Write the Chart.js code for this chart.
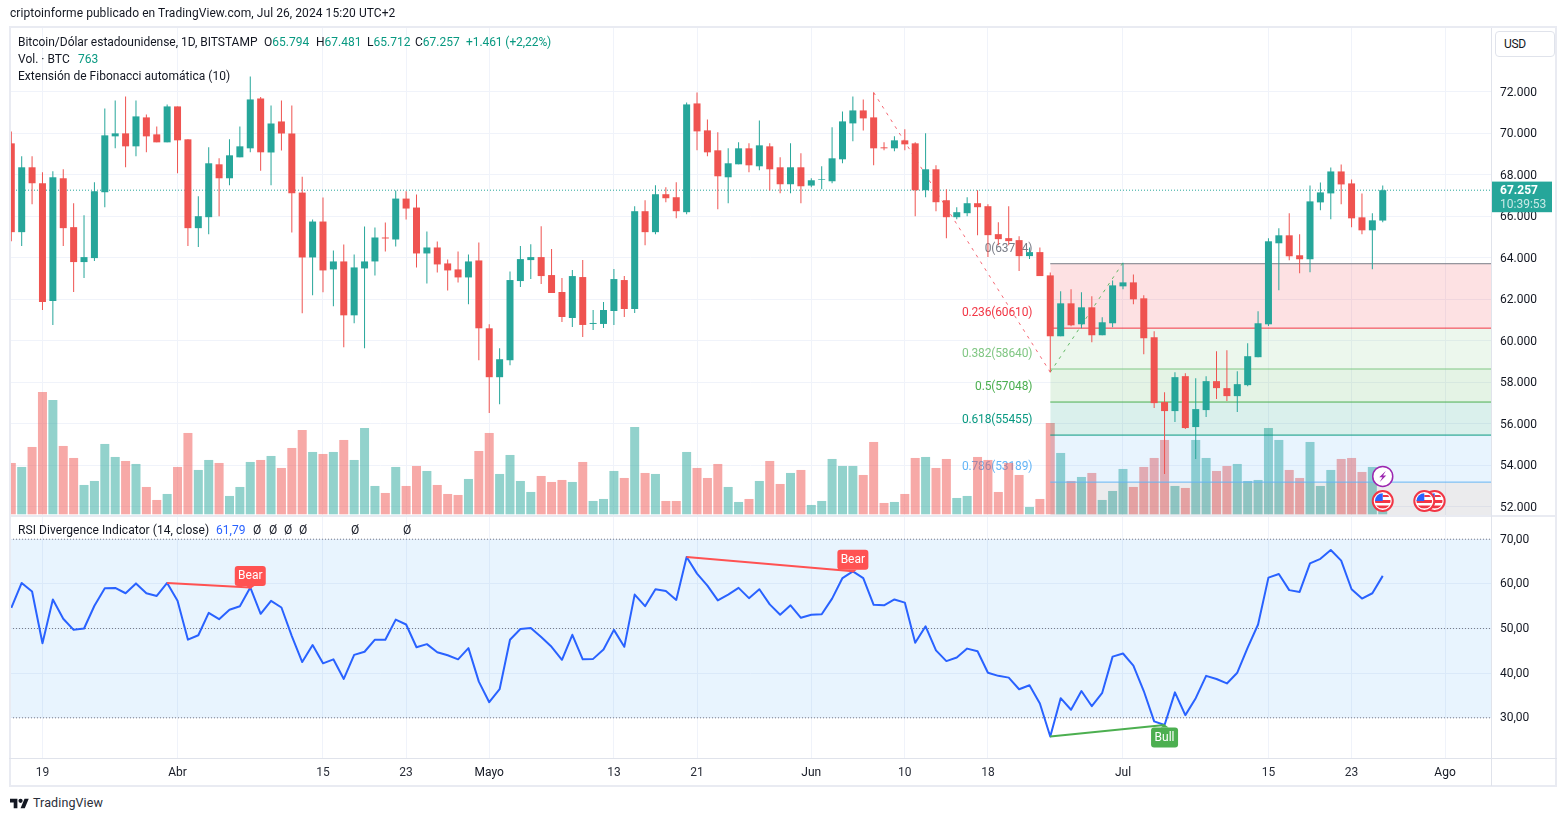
<!DOCTYPE html>
<html><head><meta charset="utf-8">
<script src="https://cdn.jsdelivr.net/npm/chart.js@4"></script>
<style>
html,body{margin:0;padding:0;background:#fff;width:1567px;height:821px;overflow:hidden}
canvas{position:absolute;display:block}
.t{position:absolute;white-space:nowrap;font:12px Roboto,sans-serif;color:#131722;line-height:16px;letter-spacing:.02px;z-index:5}
.g{color:#089981}.b{color:#2962ff}
.f{position:absolute;background:#e9ebf2;z-index:4}
</style></head><body>
<div class="t" style="left:10px;top:5px;letter-spacing:.07px">criptoinforme publicado en TradingView.com, Jul 26, 2024 15:20 UTC+2</div>
<div class="f" style="left:9px;top:26px;width:1548px;height:2px"></div>
<div class="f" style="left:9px;top:28px;width:2px;height:758px"></div>
<div class="f" style="left:1555px;top:28px;width:2px;height:758px"></div>
<div class="f" style="left:9px;top:785px;width:1548px;height:2px"></div>
<div class="f" style="left:9px;top:515px;width:1548px;height:2px"></div>
<div class="f" style="left:9px;top:758px;width:1548px;height:1px;background:#e0e3eb"></div>
<div class="f" style="left:1491px;top:28px;width:1px;height:758px;background:#e0e3eb"></div>
<canvas id="priceCanvas" width="1545" height="523" style="left:10px;top:10px"></canvas>
<canvas id="rsiCanvas" width="1545" height="287" style="left:10px;top:498px"></canvas>
<div class="t" style="left:18px;top:34px;letter-spacing:-.02px">Bitcoin/Dólar estadounidense, 1D, BITSTAMP</div>
<div class="t" style="left:264px;top:34px">O<span class="g">65.794</span></div>
<div class="t" style="left:316px;top:34px">H<span class="g">67.481</span></div>
<div class="t" style="left:367px;top:34px">L<span class="g">65.712</span></div>
<div class="t" style="left:415px;top:34px">C<span class="g">67.257</span></div>
<div class="t g" style="left:466px;top:34px;letter-spacing:-.08px">+1.461 (+2,22%)</div>
<div class="t" style="left:18px;top:51px">Vol. · BTC</div>
<div class="t g" style="left:78px;top:51px">763</div>
<div class="t" style="left:18px;top:68px">Extensión de Fibonacci automática (10)</div>
<div class="t" style="left:18px;top:522px;letter-spacing:.07px">RSI Divergence Indicator (14, close)</div>
<div class="t b" style="left:216px;top:522px">61,79</div>
<div class="t" style="left:253px;top:522px">Ø</div>
<div class="t" style="left:269px;top:522px">Ø</div>
<div class="t" style="left:284px;top:522px">Ø</div>
<div class="t" style="left:299px;top:522px">Ø</div>
<div class="t" style="left:351px;top:522px">Ø</div>
<div class="t" style="left:403px;top:522px">Ø</div>
<div style="position:absolute;left:1495px;top:31px;width:58px;height:24px;border:1px solid #e0e3eb;border-radius:4px;background:#fff;z-index:5"></div>
<div class="t" style="left:1504px;top:36px;z-index:6;letter-spacing:-.3px">USD</div>
<svg style="position:absolute;left:10px;top:797px" width="19" height="13" viewBox="0 2 36 22"><path fill="#131722" d="M14 22H7V11H0V4h14v18zM28 22h-8l7.5-18h8L28 22z"/><circle fill="#131722" cx="20" cy="8" r="4"/></svg>
<div class="t" style="left:33px;top:795px;font-size:12.5px;letter-spacing:.1px;color:#2a2e39">TradingView</div>
<script>
const candleOpen=[69515,65235,68361,67592,61917,67832,65476,63793,63985,67159,69852,69996,69371,70766,69948,69563,71295,69708,65428,65957,68505,67832,68842,69275,71677,69075,70570,69990,67142,64016,65747,63439,63824,61227,63487,63824,64978,64882,66853,66421,64209,64497,63728,63439,63054,63872,60602,58245,59063,62879,63889,64033,63167,62350,61099,63071,60811,60811,61436,62927,61532,66245,65235,67063,66918,66197,71439,70140,69179,67880,68505,69275,68409,69371,68361,67544,68361,67480,67752,67688,68746,70477,71102,70766,69323,69275,69660,69515,67255,68265,66774,65956,66149,66630,66486,65139,64947,64851,64081,64273,63152,60218,61805,60795,61613,60267,60844,62623,62815,62046,60170,57045,56612,58295,55842,56660,58054,57718,57333,57862,59209,60795,64699,65083,64121,63929,66670,67103,68161,67584,65949,65324,65794];
const candleHigh=[70092,68890,68890,68121,68169,68265,66630,66053,67640,71199,71583,71776,71583,70910,70333,71391,71295,69708,66967,69323,68794,69708,70333,72737,71750,71340,71580,71340,67911,65844,66902,64353,64641,64160,65507,65459,65699,67238,67206,67046,65267,64786,63920,64305,64160,64737,60794,59640,63343,64562,64658,65524,64418,63023,63408,63889,61484,61869,63456,63119,66486,66774,67496,67400,67640,71487,71968,70669,70044,69275,69563,69515,70621,69515,68842,69515,69034,67832,68409,70285,71054,71776,71631,71968,69563,69852,70189,69563,70000,68457,67303,66438,66918,67255,66582,65716,66486,65043,64498,64498,63296,62383,62479,62334,62142,61132,62911,63761,63200,62190,60459,57525,58487,58439,58198,58295,59497,59545,58535,59882,61421,64939,65420,66141,65131,67488,67632,68353,68498,67776,67103,66141,67481];
const candleLow=[64802,64562,66582,61484,60763,64562,62350,63023,63841,66438,69275,68361,68890,69083,69563,69563,68073,64562,64514,65139,66005,67496,68842,69083,68200,67500,69170,65218,61323,62189,62333,61660,59688,60842,59640,63151,64305,64545,65844,63535,62766,63295,62429,62814,61756,59063,56514,56947,58822,62590,62975,62735,62302,60907,60667,60186,60522,60618,60763,61147,61340,64610,65139,66678,65908,66101,69179,68890,66341,66630,68505,68120,68217,67239,67111,67111,66630,67400,67303,67592,68554,69611,70140,68457,69179,69130,69179,66005,66918,66245,64947,65860,66005,65091,64033,64610,64610,63360,63937,63119,58487,60218,60699,60603,59930,60267,60651,62479,61757,59353,56756,53582,56083,55746,54303,56323,57189,57093,56563,57814,59209,60707,62438,63881,63256,63304,66286,65853,66574,65468,65131,63448,65712];
const candleClose=[65235,68361,67592,61869,67880,65428,63793,64033,67207,69900,69996,69371,70814,69852,69563,71295,69660,65428,66005,68554,67832,68938,69371,71631,69083,70472,69990,67110,64016,65747,63391,63824,61227,63535,63824,64978,64930,66853,66373,64209,64497,63680,63391,63054,63824,60602,58245,59111,62927,63937,64033,63119,62302,61147,63119,60763,60859,61484,62975,61532,66245,65235,67063,66870,66245,71391,70092,69082,67928,68554,69275,68457,69419,68265,67544,68361,67447,67736,67784,68794,70573,71102,70718,69275,69275,69660,69467,67255,68265,66678,65956,66197,66630,66438,65091,64898,64803,64081,64273,63119,60218,61805,60747,61613,60267,60892,62671,62815,61998,60122,56996,56612,58247,55794,56708,58054,57718,57333,57910,59257,60844,64795,65083,64073,63929,66718,67151,68161,67536,65901,65324,65805,67257];
const volumes=[6160,5680,8080,14680,13720,8200,6760,3520,4000,8440,6880,6400,6040,3280,1720,2440,5680,9760,5320,6520,6160,2200,3280,6280,6520,7000,5560,7960,10120,7480,7240,7480,8920,6520,10360,3400,2560,5680,3400,5800,5200,3520,2440,2320,4240,7600,9760,4840,7120,4000,2680,4600,3880,4120,3880,6280,1600,1840,5200,4360,10480,4960,4840,1600,1600,7480,5560,4360,6040,3280,1480,1840,4000,6400,3640,4960,5320,1120,1600,6640,5800,5800,4720,8680,1360,1480,2440,6760,6880,5560,6640,1960,2200,6880,6520,2680,6160,4720,880,1840,10960,7360,4000,4480,4960,1720,2800,5440,3280,5680,6760,8920,3400,3160,8920,6760,5200,5800,6040,4000,4120,10360,8920,5320,4360,8680,3400,5320,6640,6760,5080,5680,763];
const rsiValues=[54.6,60.2,58.3,46.7,56.5,52.2,49.7,50.0,55.1,59.0,59.1,57.9,60.1,57.9,57.3,60.2,56.2,47.5,48.5,53.5,52.1,54.2,55.0,59.2,53.3,56.2,54.7,48.3,42.5,46.3,42.2,43.1,38.7,44.1,44.8,47.5,47.5,52.0,50.9,45.8,46.5,44.7,44.0,43.1,45.6,38.1,33.5,36.4,47.5,49.9,50.1,48.1,45.9,43.0,48.6,43.1,43.2,45.3,49.7,45.9,57.6,55.0,58.8,58.4,56.4,66.0,62.3,59.6,56.3,57.6,59.1,56.8,58.8,55.4,53.1,55.2,52.4,53.1,53.2,56.7,61.3,62.8,61.3,55.3,55.2,56.5,55.8,46.8,50.5,45.1,42.7,43.5,45.5,44.9,40.1,39.4,39.0,36.4,37.3,33.2,25.8,34.4,31.8,36.0,32.6,35.6,43.7,44.4,41.7,36.0,29.2,28.4,35.7,30.6,34.4,39.4,38.7,37.7,40.1,45.7,50.9,61.4,62.2,58.6,58.2,64.6,65.6,67.6,65.2,58.8,56.7,57.9,61.79];
const xTickIndex=[3,16,30,38,46,58,66,77,86,94,107,121,129,138];
const xTickLabels=['19','Abr','15','23','Mayo','13','21','Jun','10','18','Jul','15','23','Ago'];
const monthTicks=[16,46,77,107,138];
const priceTicks=[52000,54000,56000,58000,60000,62000,64000,66000,68000,70000,72000];
const priceTickLabels=['52.000','54.000','56.000','58.000','60.000','62.000','64.000','66.000','68.000','70.000','72.000'];
const rsiTicks=[30,40,50,60,70];
const rsiTickLabels=['30,00','40,00','50,00','60,00','70,00'];
const rsiLevels=[70,50,30];
const fibRatios=['0','0.236','0.382','0.5','0.618','0.786'];
const fibPrices=[63714,60610,58640,57048,55455,53189];
const fibColors=['#787b86','#f23645','#81c784','#4caf50','#089981','#64b5f6'];
const fibBands=['rgba(242,54,69,.15)','rgba(129,199,132,.15)','rgba(76,175,80,.15)','rgba(8,153,129,.15)','rgba(100,181,246,.15)','rgba(120,123,134,.15)'];
const fibFloor=51604;
const fibStartIndex=100;
const trendDown=[{x:83,y:71968},{x:100,y:58487}];
const trendUp=[{x:100,y:58487},{x:107,y:63761}];
const divergences=[{from:15,to:23,kind:'Bear'},{from:65,to:81,kind:'Bear'},{from:100,to:111,kind:'Bull'}];
const lastPriceLabel=['67.257','10:39:53'];
const flagEventIndex=[137,136,132];
const boltEventIndex=[132];

const UP='#26a69a',DOWN='#ef5350',XMIN=-0.125,XMAX=142.42,GRID='#f0f3fa';
const FONT='Roboto, sans-serif';
const lastPrice=candleClose[candleClose.length-1];
const isUp=i=>candleClose[i]>=candleOpen[i];
Chart.defaults.font.family=FONT;Chart.defaults.font.size=12;Chart.defaults.color='#131722';

function xScale(showLabels){
  return {type:'linear',min:XMIN,max:XMAX,offset:false,
    grid:{color:GRID,offset:false,drawTicks:false},border:{display:false},
    afterBuildTicks(s){s.ticks=xTickIndex.map(v=>({value:v}))},
    afterFit(s){s.height=showLabels?27:0},
    ticks:{display:showLabels,autoSkip:false,maxRotation:0,padding:8,
      callback:(v)=>xTickLabels[xTickIndex.indexOf(v)],
      font:{family:FONT,size:12},color:c=>c.tick&&monthTicks.includes(c.tick.value)?'#131722':'#2a2e39'}};
}
function yAxis(ticks,labels,min,max,labelOffset){
  return {type:'linear',position:'right',min,max,offset:false,grid:{color:GRID,drawTicks:false},border:{display:false},
    afterBuildTicks(s){s.ticks=ticks.map(v=>({value:v}))},
    afterFit(s){s.width=64},
    ticks:{padding:9,labelOffset,autoSkip:false,callback:v=>labels[ticks.indexOf(v)],color:'#131722',font:{family:FONT,size:12}}};
}
const flat=(y,from,to)=>[{x:from,y},{x:to,y}];
const line=(data,color,extra)=>Object.assign({type:'line',data,borderColor:color,borderWidth:1,pointRadius:0,fill:false,tension:0},extra);

/* ---- price pane ---- */
const fibSets=fibPrices.map((p,k)=>line(flat(p,fibStartIndex,XMAX),fibColors[k],{yAxisID:'y',order:8,fill:'+1',backgroundColor:fibBands[k]}));
fibSets.push(line(flat(fibFloor,fibStartIndex,XMAX),'rgba(0,0,0,0)',{yAxisID:'y',order:9,borderWidth:0}));

const fibLabelPlugin={id:'fibLabels',beforeDatasetsDraw(c){
  const g=c.ctx,s=c.scales.y;g.save();g.font='12px '+FONT;g.textAlign='right';g.textBaseline='middle';g.letterSpacing='-0.15px';
  fibPrices.forEach((p,k)=>{g.fillStyle=fibColors[k];
    g.fillText(fibRatios[k]+'('+p+')',c.scales.x.getPixelForValue(fibStartIndex)-18,s.getPixelForValue(p)-15)});
  g.restore();
}};
const eventPlugin={id:'events',afterDatasetsDraw(c){
  const g=c.ctx,xs=c.scales.x;const top=c.chartArea.top;
  const yBolt=476.4-28+top,yFlag=501-28+top;
  flagEventIndex.forEach(i=>{const x=xs.getPixelForValue(i);g.save();
    g.beginPath();g.arc(x,yFlag,10,0,7);g.fillStyle='#fff';g.fill();g.lineWidth=2;g.strokeStyle='#f23645';g.stroke();
    g.beginPath();g.arc(x,yFlag,7.8,0,7);g.clip();
    g.fillStyle='#f23645';g.fillRect(x-9,yFlag-1,18,3);g.fillRect(x-9,yFlag+4.5,18,3);g.fillRect(x,yFlag-6,10,2);
    g.fillStyle='#2962ff';g.fillRect(x-9,yFlag-8,9,8);g.restore();});
  boltEventIndex.forEach(i=>{const x=xs.getPixelForValue(i);g.save();
    g.beginPath();g.arc(x,yBolt,10,0,7);g.fillStyle='#fff';g.fill();g.lineWidth=1.5;g.strokeStyle='#9c27b0';g.stroke();
    g.beginPath();g.moveTo(x+3,yBolt-5.5);g.lineTo(x-3.5,yBolt+.8);g.lineTo(x-.3,yBolt+.8);g.lineTo(x-3,yBolt+5.5);g.lineTo(x+3.5,yBolt-.8);g.lineTo(x+.3,yBolt-.8);g.closePath();
    g.fillStyle='#9c27b0';g.fill();g.restore();});
}};
const lastTagPlugin={id:'lastTag',afterDraw(c){
  const g=c.ctx,y=c.scales.y.getPixelForValue(lastPrice),x=c.chartArea.right;g.save();
  g.fillStyle='#26a69a';g.fillRect(x,y-8.6,61,30.6);
  g.textAlign='left';g.textBaseline='middle';g.fillStyle='#fff';g.font='bold 12px '+FONT;g.fillText(lastPriceLabel[0],x+9,y+1);
  g.fillStyle='rgba(255,255,255,.75)';g.font='12px '+FONT;g.fillText(lastPriceLabel[1],x+9,y+15);g.restore();
}};
new Chart(document.getElementById('priceCanvas'),{type:'bar',
  data:{datasets:[
    {label:'Volume',yAxisID:'v',order:10,grouped:false,barThickness:9,inflateAmount:0,
      data:volumes.map((y,x)=>({x,y})),backgroundColor:volumes.map((_,i)=>isUp(i)?'rgba(38,166,154,.5)':'rgba(239,83,80,.5)')},
    ...fibSets,
    line(trendDown,'rgba(242,54,69,.75)',{yAxisID:'y',order:7,borderDash:[3,5]}),
    line(trendUp,'rgba(76,175,80,.85)',{yAxisID:'y',order:7,borderDash:[3,5]}),
    line(flat(lastPrice,XMIN,XMAX),'#26a69a',{yAxisID:'y',order:6,borderDash:[1,2]}),
    {label:'Wick',yAxisID:'y',order:5,grouped:false,barThickness:1,inflateAmount:0,
      data:candleHigh.map((h,x)=>({x,y:[candleLow[x],h]})),backgroundColor:candleHigh.map((_,i)=>isUp(i)?UP:DOWN)},
    {label:'Body',yAxisID:'y',order:4,grouped:false,barThickness:7,inflateAmount:0,
      data:candleOpen.map((o,x)=>({x,y:[o,candleClose[x]]})),backgroundColor:candleOpen.map((_,i)=>isUp(i)?UP:DOWN)}
  ]},
  options:{responsive:false,animation:false,devicePixelRatio:1,layout:{padding:{top:18,bottom:18,left:0,right:0}},
    plugins:{legend:{display:false},tooltip:{enabled:false}},
    scales:{x:xScale(false),y:yAxis(priceTicks,priceTickLabels,fibFloor,75074,1),
      v:{type:'linear',display:false,min:-84,max:58356}}},
  plugins:[fibLabelPlugin,eventPlugin,lastTagPlugin]});

/* ---- RSI pane ---- */
const divColor={Bear:'#ff5252',Bull:'#4caf50'};
const divSets=divergences.map(d=>line([{x:d.from,y:rsiValues[d.from]},{x:d.to,y:rsiValues[d.to]}],divColor[d.kind],{order:1,borderWidth:2}));
const badgePlugin={id:'badges',afterDatasetsDraw(c){
  const g=c.ctx;g.save();g.font='12px '+FONT;g.textAlign='center';g.textBaseline='middle';
  divergences.forEach(d=>{const x=c.scales.x.getPixelForValue(d.to),py=c.scales.y.getPixelForValue(rsiValues[d.to]);
    const bear=d.kind==='Bear',w=bear?31:27,h=20,top=bear?py-h-1.5:py+2.5;
    g.fillStyle=divColor[d.kind];g.beginPath();g.roundRect(x-w/2,top,w,h,3);g.fill();
    g.beginPath();if(bear){g.moveTo(x-4,top+h);g.lineTo(x+4,top+h);g.lineTo(x,top+h+3)}else{g.moveTo(x-4,top);g.lineTo(x+4,top);g.lineTo(x,top-3)}g.fill();
    g.fillStyle='#fff';g.fillText(d.kind,x,top+h/2+.5);});
  g.restore();
}};
new Chart(document.getElementById('rsiCanvas'),{type:'line',
  data:{datasets:[
    line(flat(rsiLevels[0],XMIN,XMAX),'#787b86',{order:6,borderDash:[1,2],fill:{target:{value:rsiLevels[2]}},backgroundColor:'rgba(33,150,243,.1)'}),
    line(flat(rsiLevels[1],XMIN,XMAX),'#787b86',{order:5,borderDash:[1,2]}),
    line(flat(rsiLevels[2],XMIN,XMAX),'#787b86',{order:5,borderDash:[1,2]}),
    ...divSets,
    line(rsiValues.map((y,x)=>({x,y})),'#2962ff',{order:2,borderWidth:2,borderJoinStyle:'round'})
  ]},
  options:{responsive:false,animation:false,devicePixelRatio:1,layout:{padding:{top:18,bottom:0,left:0,right:0}},
    plugins:{legend:{display:false},tooltip:{enabled:false}},
    scales:{x:xScale(true),y:yAxis(rsiTicks,rsiTickLabels,21,75.2,0.5)}},
  plugins:[badgePlugin]});
</script>
</body></html>
